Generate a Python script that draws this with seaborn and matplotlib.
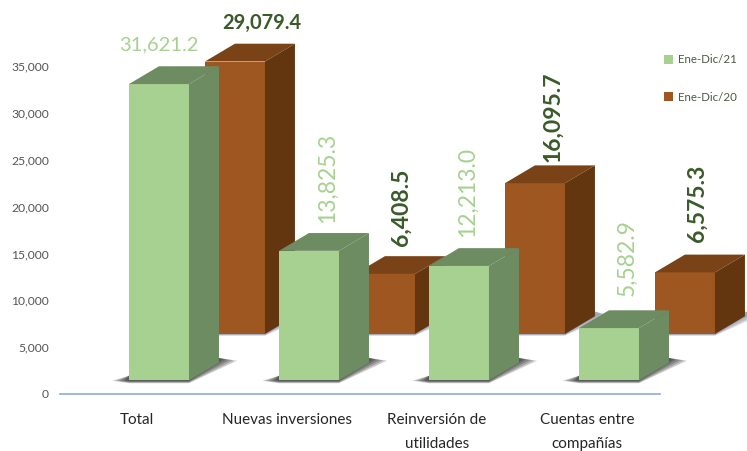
import pandas as pd
import matplotlib
matplotlib.use('Agg')
import matplotlib.pyplot as plt
from matplotlib.patches import Polygon
import seaborn as sns

categorias = ['Total', 'Nuevas inversiones', 'Reinversión de\nutilidades', 'Cuentas entre\ncompañías']
ene_dic_21 = [31621.2, 13825.3, 12213.0, 5582.9]
ene_dic_20 = [29079.4, 6408.5, 16095.7, 6575.3]
periodos = ['Ene-Dic/21', 'Ene-Dic/20']
yticks = [0, 5000, 10000, 15000, 20000, 25000, 30000, 35000]

VERDE = '#a7d190'
VERDE_OSC = '#6d8c62'
CAFE = '#9e5720'
CAFE_TOP = '#7a4317'
CAFE_LADO = '#643610'
TXT_OSC = '#3a5a2a'

# profundidad del efecto 3d y base de cada serie
DX, DY = 0.2, 1900
BASE = {0: 1450, 1: 6400}
# desplazamiento de las etiquetas (puntos), respecto al frente de la barra
OFFSETS = {0: [(0, 28), (13, 20), (6, 21), (13, 23)],
           1: [(19, 28), (12, 20), (13, 15), (9, 22)]}

df = pd.DataFrame({
    'categoria': categorias * 2,
    'valor': ene_dic_21 + ene_dic_20,
    'periodo': [periodos[0]] * 4 + [periodos[1]] * 4,
})

sns.set_style('white')
plt.rcParams['font.family'] = ['Lato', 'DejaVu Sans']

fig = plt.figure(figsize=(7.47, 4.51), dpi=100)
ax = fig.add_axes([60 / 747, 57 / 451, 600 / 747, 328 / 451])

sns.barplot(data=df, x='categoria', y='valor', hue='periodo', hue_order=periodos,
            palette=[VERDE, CAFE], saturation=1, width=1.013, gap=0.21,
            linewidth=0, edgecolor='none', ax=ax)

ax.set_xlim(-0.913, 3.087)
ax.set_ylim(0, 35000)
ax.set_xlabel('')
ax.set_ylabel('')

for serie, cont in enumerate(ax.containers):
    z = 3 if serie == 0 else 2
    frente, tope, lado = (VERDE, VERDE_OSC, VERDE_OSC) if serie == 0 else (CAFE, CAFE_TOP, CAFE_LADO)
    for i, bar in enumerate(cont):
        x0 = bar.get_x()
        w = bar.get_width()
        h = bar.get_height()
        y0 = BASE[serie]
        bar.set_y(y0)
        bar.set_zorder(z)
        bar.set_clip_on(False)
        x1 = x0 + w
        y1 = y0 + h
        ax.add_patch(Polygon([(x0, y1), (x1, y1), (x1 + DX, y1 + DY), (x0 + DX, y1 + DY)],
                             fc=tope, ec='none', zorder=z, clip_on=False))
        ax.add_patch(Polygon([(x1, y0), (x1 + DX, y0 + DY), (x1 + DX, y1 + DY), (x1, y1)],
                             fc=lado, ec='none', zorder=z, clip_on=False))
        # sombra al pie de la barra, por capas para que se difumine
        if serie == 0:
            for k in [1.0, 0.8, 0.6, 0.4, 0.25]:
                ax.add_patch(Polygon([(x0 - 0.11 * k, y0 - 30), (x0, y0 - 300 * k), (x1, y0 - 300 * k),
                                      (x1 + DX + 0.12 * k, y0 + 2300 - 200 * k),
                                      (x1 + DX, y0 + 2400), (x1, y0 + 500), (x0, y0 + 500)],
                                     fc='#1a1a1a', ec='none', alpha=0.22, zorder=z - 0.5, clip_on=False))
        else:
            for k in [1.0, 0.7, 0.4]:
                ax.add_patch(Polygon([(x0, y0 - 180 * k), (x1, y0 - 180 * k),
                                      (x1 + DX + 0.1 * k, y0 + 2200 - 200 * k),
                                      (x1 + DX, y0 + 2400), (x1, y0 + 500), (x0, y0 + 500)],
                                     fc='#4a5570', ec='none', alpha=0.22, zorder=z - 0.5, clip_on=False))
        valor = (ene_dic_21 if serie == 0 else ene_dic_20)[i]
        dx_txt, dy_txt = OFFSETS[serie][i]
        girado = i > 0
        ax.annotate(f'{valor:,.1f}', xy=(x0 + w / 2, y1), xytext=(dx_txt, dy_txt),
                    textcoords='offset points', ha='center',
                    va='bottom' if girado else 'center',
                    rotation=90 if girado else 0, fontsize=16.5 if girado else 14.5,
                    fontweight='normal' if serie == 0 else 'bold',
                    color=VERDE if serie == 0 else TXT_OSC, zorder=6, annotation_clip=False)

ax.set_yticks(yticks)
ax.set_yticklabels([f'{v:,}' for v in yticks])
ax.set_xticks([i - 0.4 for i in range(4)])
ax.set_xticklabels(categorias)
ax.tick_params(axis='y', length=0, labelsize=8.7, labelcolor='#555555', pad=8)
ax.tick_params(axis='x', length=0, labelsize=11, labelcolor='#262626', pad=14)
for lab in ax.get_xticklabels():
    lab.set_linespacing(1.85)
    lab.set_verticalalignment('top')

sns.despine(ax=ax, left=True)
ax.spines['bottom'].set_color('#8faadc')
ax.spines['bottom'].set_linewidth(1.2)
ax.spines['bottom'].set_zorder(1)

sns.move_legend(ax, 'upper left', bbox_to_anchor=(653.5 / 747, 1 - 44 / 451),
                bbox_transform=fig.transFigure, title=None, frameon=False,
                fontsize=8.3, labelspacing=2.3, handlelength=0.8, handleheight=0.8,
                handletextpad=0.45, labelcolor='#4a5a40')

fig.savefig('out.png', dpi=100, facecolor='white')
plt.close()
